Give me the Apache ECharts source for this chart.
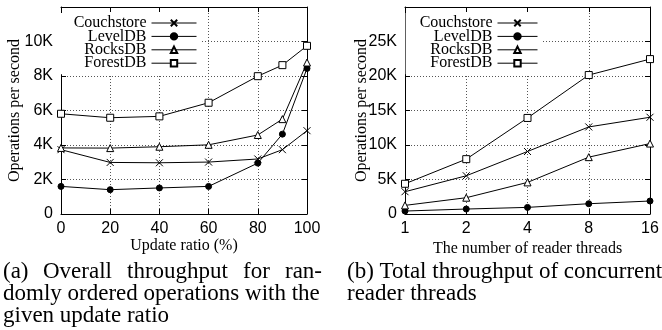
<!DOCTYPE html>
<html>
<head>
<meta charset="utf-8">
<script src="https://cdn.jsdelivr.net/npm/echarts@6/dist/echarts.min.js"></script>
<style>
  html, body { margin: 0; padding: 0; background: #fff; }
  #chart { width: 662px; height: 330px; }
</style>
</head>
<body>
<div id="chart"></div>
<script>
// (a) update ratio
const updateRatio = [0, 20, 40, 60, 80, 90, 100];
const couchA = [3730, 2990, 2970, 3010, 3190, 3730, 4830];
const levelA = [1600, 1410, 1510, 1600, 2950, 4630, 8440];
const rocksA = [3830, 3820, 3900, 4010, 4580, 5500, 8780];
const forestA = [5810, 5580, 5660, 6450, 7990, 8630, 9750];

// (b) reader threads
const threads = ['1', '2', '4', '8', '16'];
const couchB = [3230, 5540, 9060, 12620, 14020];
const levelB = [430, 720, 960, 1490, 1880];
const rocksB = [1250, 2360, 4580, 8240, 10210];
const forestB = [4380, 7950, 13920, 20140, 22450];

const names = ['Couchstore', 'LevelDB', 'RocksDB', 'ForestDB'];

const SANS = 'Liberation Sans';
const SERIF = 'Liberation Serif';

const kFmt = (max) => (v) => v === 0 ? '0' : (v >= max ? '' : v / 1000 + 'K');

const gridLine = {show: true, lineStyle: {color: '#555', type: [1, 2], width: 1}};
const blackLine = {show: true, onZero: false, lineStyle: {color: '#000', width: 1}};
const tickIn = {show: true, inside: true, length: 5, lineStyle: {color: '#000'}};
const tickLabel = {color: '#000', fontFamily: SANS, fontSize: 16};
const nameStyle = {fontFamily: SERIF, fontSize: 16, color: '#000'};

// marker styles per series
const markers = {
  Couchstore: {symbol: 'path://M0 0L10 10M10 0L0 10', symbolSize: 7, itemStyle: {color: '#000', borderColor: '#000', borderWidth: 1}},
  LevelDB: {symbol: 'circle', symbolSize: 6, itemStyle: {color: '#000', borderColor: '#000', borderWidth: 1}},
  RocksDB: {symbol: 'triangle', symbolSize: 7, itemStyle: {color: '#fff', borderColor: '#000', borderWidth: 1}},
  ForestDB: {symbol: 'rect', symbolSize: 7, itemStyle: {color: '#fff', borderColor: '#000', borderWidth: 1}}
};

function line(name, data, gi) {
  return Object.assign({
    name: name,
    type: 'line',
    xAxisIndex: gi * 2,
    yAxisIndex: gi * 2,
    data: data,
    showAllSymbol: true,
    lineStyle: {color: '#000', width: 1},
    animation: false,
    z: 5
  }, markers[name]);
}

const pairs = (ys) => ys.map((y, i) => [updateRatio[i], y]);

function legendAt(right, w) {
  return {
    orient: 'vertical',
    align: 'right',
    right: right,
    top: 13,
    itemWidth: w,
    itemHeight: 8,
    itemGap: -2.6,
    padding: [2, 3, 3, 14],
    backgroundColor: '#fff',
    selectedMode: false,
    lineStyle: {width: 1, color: '#000'},
    textStyle: {fontFamily: SERIF, fontSize: 16, color: '#000'},
    data: names
  };
}

const capStyle = {fontFamily: SERIF, fontSize: 23, fill: '#000', verticalAlign: 'middle'};
function cap(text, x, y) {
  return {type: 'text', left: x, top: y - 12, style: Object.assign({text: text}, capStyle)};
}

const chart = echarts.init(document.getElementById('chart'), null, {renderer: 'canvas'});
chart.setOption({
  animation: false,
  backgroundColor: '#fff',
  grid: [
    {left: 61, top: 7, width: 246, height: 207},
    {left: 405, top: 7, width: 245, height: 207}
  ],
  legend: [legendAt(462, 45), legendAt(121, 40)],
  xAxis: [
    {
      type: 'value', gridIndex: 0, min: 0, max: 100, interval: 20,
      axisLine: blackLine, axisTick: tickIn, splitLine: gridLine,
      axisLabel: Object.assign({margin: 7}, tickLabel),
      name: 'Update ratio (%)', nameLocation: 'middle', nameGap: 24, nameMoveOverlap: false,
      nameTextStyle: nameStyle
    },
    {
      type: 'value', gridIndex: 0, position: 'top', min: 0, max: 100, interval: 20,
      axisLine: blackLine, axisTick: tickIn, splitLine: {show: false}, axisLabel: {show: false}
    },
    {
      type: 'category', gridIndex: 1, data: threads, boundaryGap: false,
      axisLine: blackLine, axisTick: Object.assign({alignWithLabel: true}, tickIn), splitLine: gridLine,
      axisLabel: Object.assign({margin: 7}, tickLabel),
      name: 'The number of reader threads', nameLocation: 'middle', nameGap: 27, nameMoveOverlap: false,
      nameTextStyle: nameStyle
    },
    {
      type: 'category', gridIndex: 1, data: threads, boundaryGap: false, position: 'top',
      axisLine: blackLine, axisTick: tickIn, splitLine: {show: false}, axisLabel: {show: false}
    }
  ],
  yAxis: [
    {
      type: 'value', gridIndex: 0, min: 0, max: 12000, interval: 2000,
      axisLine: blackLine, axisTick: tickIn, splitLine: gridLine,
      axisLabel: Object.assign({margin: 8, formatter: kFmt(12000)}, tickLabel),
      name: 'Operations per second', nameLocation: 'middle', nameGap: 38, nameMoveOverlap: false,
      nameTextStyle: nameStyle
    },
    {
      type: 'value', gridIndex: 0, position: 'right', min: 0, max: 12000, interval: 2000,
      axisLine: blackLine, axisTick: tickIn, splitLine: {show: false}, axisLabel: {show: false}
    },
    {
      type: 'value', gridIndex: 1, min: 0, max: 30000, interval: 5000,
      axisLine: blackLine, axisTick: tickIn, splitLine: gridLine,
      axisLabel: Object.assign({margin: 8, formatter: kFmt(30000)}, tickLabel),
      name: 'Operations per second', nameLocation: 'middle', nameGap: 35, nameMoveOverlap: false,
      nameTextStyle: nameStyle
    },
    {
      type: 'value', gridIndex: 1, position: 'right', min: 0, max: 30000, interval: 5000,
      axisLine: blackLine, axisTick: tickIn, splitLine: {show: false}, axisLabel: {show: false}
    }
  ],
  series: [
    line('Couchstore', pairs(couchA), 0),
    line('LevelDB', pairs(levelA), 0),
    line('RocksDB', pairs(rocksA), 0),
    line('ForestDB', pairs(forestA), 0),
    line('Couchstore', couchB, 1),
    line('LevelDB', levelB, 1),
    line('RocksDB', rocksB, 1),
    line('ForestDB', forestB, 1)
  ],
  graphic: [
    // first caption line is justified, so each word sits on its own
    cap('(a)', 3, 272),
    cap('Overall', 43, 272),
    cap('throughput', 127, 272),
    cap('for', 243, 272),
    cap('ran-', 285, 272),
    cap('domly ordered operations with the', 3, 294),
    cap('given update ratio', 3, 316),
    cap('(b) Total throughput of concurrent', 347, 272),
    cap('reader threads', 347, 294)
  ]
});
</script>
</body>
</html>
